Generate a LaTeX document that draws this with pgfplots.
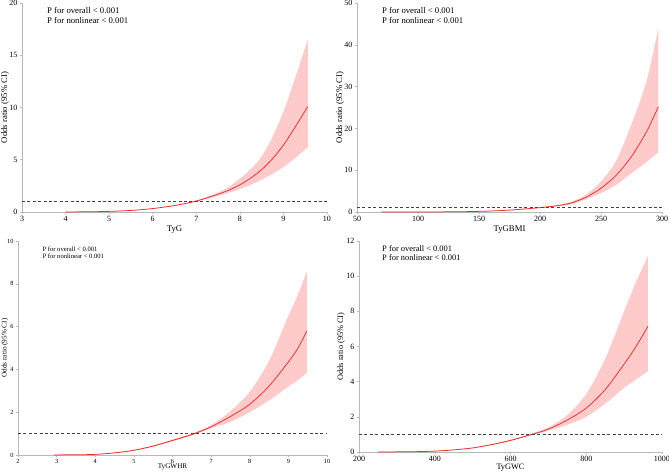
\documentclass[border=0pt]{standalone}
\usepackage{pgfplots}
\pgfplotsset{compat=1.18}
\usepgfplotslibrary{fillbetween}
\usepackage{fontspec}
\setmainfont{Liberation Serif}

\definecolor{axgray}{HTML}{B8B8B8}
\definecolor{band}{HTML}{FFCACA}
\definecolor{orline}{HTML}{EE2A2A}
\definecolor{refline}{HTML}{444444}

\pgfplotsset{
  rcs/.style={
    scale only axis,
    axis x line*=bottom, axis y line*=left,
    axis line style={axgray, line width=0.6pt},
    tick style={axgray, line width=0.5pt},
    tick align=outside, major tick length=2pt,
    xticklabel style={yshift=1.5pt},
    yticklabel style={xshift=1pt},
    /pgf/number format/assume math mode=true,
    /pgf/number format/1000 sep={},
    ylabel={Odds ratio (95\% CI)},
    ylabel style={anchor=south, inner sep=0pt},
    xlabel style={anchor=center, inner sep=0pt},
    tick label style={font=\fontsize{8}{9}\selectfont},
    label style={font=\fontsize{8.7}{10}\selectfont},
  },
  edge/.style={draw=none, smooth, forget plot},
  bandsty/.style={fill=band, draw=none, forget plot},
  orsty/.style={orline, line width=0.75pt, smooth},
  refsty/.style={refline, line width=0.7pt, dash pattern=on 3pt off 2.4pt},
}

\begin{document}
\begin{tikzpicture}

% ---- TyG ----
\begin{axis}[rcs, at={(22pt,260pt)}, anchor=south west, width=305pt, height=209pt,
  xmin=3, xmax=10, ymin=0, ymax=20, xtick={3,...,10}, ytick={0,5,10,15,20},
  xlabel={TyG}, xlabel style={at={(axis description cs:0.5,-0.083)}},
  ylabel style={at={(axis description cs:-0.042,0.5)}}]
\addplot[edge, name path=hi] coordinates {
 (4.0,0.01) (4.5,0.03) (5.0,0.07) (5.5,0.16) (6.0,0.35) (6.5,0.65) (7.0,1.10)
 (7.5,1.88) (7.75,2.4) (8.0,3.2) (8.25,4.1) (8.5,5.3) (8.75,7.2) (9.0,9.6)
 (9.25,12.6) (9.56,16.5)};
\addplot[edge, name path=lo] coordinates {
 (4.0,0.0) (4.5,0.02) (5.0,0.05) (5.5,0.14) (6.0,0.31) (6.5,0.59) (7.0,1.00)
 (7.5,1.55) (7.75,1.85) (8.0,2.2) (8.25,2.6) (8.5,3.1) (8.75,3.65) (9.0,4.3)
 (9.25,5.1) (9.56,6.2)};
\addplot[bandsty] fill between[of=hi and lo];
\addplot[orsty] coordinates {
 (4.0,0.005) (4.5,0.02) (5.0,0.06) (5.5,0.15) (6.0,0.33) (6.5,0.62) (7.0,1.05)
 (7.5,1.70) (7.75,2.1) (8.0,2.6) (8.25,3.25) (8.5,4.05) (8.75,5.1) (9.0,6.4)
 (9.25,8.0) (9.56,10.1)};
\addplot[refsty] coordinates {(3,1) (10,1)};
\node[anchor=west, font=\fontsize{8.7}{10}\selectfont] at (rel axis cs:0.071,0.963) {P for overall < 0.001};
\node[anchor=west, font=\fontsize{8.7}{10}\selectfont] at (rel axis cs:0.071,0.915) {P for nonlinear < 0.001};
\end{axis}

% ---- TyGBMI ----
\begin{axis}[rcs, at={(357pt,260pt)}, anchor=south west, width=305pt, height=209pt,
  xmin=50, xmax=300, ymin=0, ymax=50, xtick={50,100,...,300}, ytick={0,10,...,50},
  xlabel={TyGBMI}, xlabel style={at={(axis description cs:0.5,-0.086)}},
  ylabel style={at={(axis description cs:-0.042,0.5)}}]
\addplot[edge, name path=hi] coordinates {
 (70,0.004) (100,0.012) (125,0.05) (150,0.17) (175,0.5) (200,1.15) (212.5,1.6)
 (225,2.4) (237.5,4.1) (250,7.3) (262.5,12.3) (275,21) (287.5,31.5) (297,44)};
\addplot[edge, name path=lo] coordinates {
 (70,0.002) (100,0.008) (125,0.03) (150,0.13) (175,0.4) (200,0.95) (212.5,1.3)
 (225,1.8) (237.5,3.0) (250,4.5) (262.5,6.5) (275,9.3) (287.5,12) (297,14.3)};
\addplot[bandsty] fill between[of=hi and lo];
\addplot[orsty] coordinates {
 (70,0.003) (100,0.01) (125,0.04) (150,0.15) (175,0.45) (200,1.05) (212.5,1.45)
 (225,2.1) (237.5,3.5) (250,5.7) (262.5,8.8) (275,13.3) (287.5,19.3) (297,25.2)};
\addplot[refsty] coordinates {(50,1) (300,1)};
\node[anchor=west, font=\fontsize{8.7}{10}\selectfont] at (rel axis cs:0.071,0.963) {P for overall < 0.001};
\node[anchor=west, font=\fontsize{8.7}{10}\selectfont] at (rel axis cs:0.071,0.915) {P for nonlinear < 0.001};
\end{axis}

% ---- TyGWHR ----
\begin{axis}[rcs, at={(18pt,17pt)}, anchor=south west, width=309pt, height=214pt,
  xmin=2, xmax=10, ymin=0, ymax=10, xtick={2,...,10}, ytick={0,2,...,10},
  tick label style={font=\fontsize{6.3}{7.5}\selectfont},
  label style={font=\fontsize{7.2}{8.5}\selectfont},
  xlabel={TyGWHR}, xlabel style={at={(axis description cs:0.5,-0.057)}},
  ylabel style={at={(axis description cs:-0.031,0.5)}}]
\addplot[edge, name path=hi] coordinates {
 (2.93,0.006) (3.5,0.012) (4.0,0.035) (4.5,0.11) (5.0,0.24) (5.5,0.45) (6.0,0.72)
 (6.57,1.05) (7.0,1.40) (7.5,2.05) (8.0,2.95) (8.5,4.4) (9.0,6.5) (9.25,7.5) (9.48,8.6)};
\addplot[edge, name path=lo] coordinates {
 (2.93,0.004) (3.5,0.008) (4.0,0.025) (4.5,0.09) (5.0,0.20) (5.5,0.39) (6.0,0.64)
 (6.57,0.95) (7.0,1.25) (7.5,1.55) (8.0,2.0) (8.5,2.55) (9.0,3.2) (9.25,3.5) (9.48,3.85)};
\addplot[bandsty] fill between[of=hi and lo];
\addplot[orsty] coordinates {
 (2.93,0.005) (3.5,0.01) (4.0,0.03) (4.5,0.10) (5.0,0.22) (5.5,0.42) (6.0,0.68)
 (6.57,1.0) (7.0,1.32) (7.5,1.80) (8.0,2.37) (8.5,3.22) (9.0,4.35) (9.25,5.0) (9.48,5.8)};
\addplot[refsty] coordinates {(2,1) (10,1)};
\node[anchor=west, font=\fontsize{6.6}{7.5}\selectfont] at (rel axis cs:0.068,0.963) {P for overall < 0.001};
\node[anchor=west, font=\fontsize{6.6}{7.5}\selectfont] at (rel axis cs:0.068,0.930) {P for nonlinear < 0.001};
\end{axis}

% ---- TyGWC ----
\begin{axis}[rcs, at={(359pt,20pt)}, anchor=south west, width=303pt, height=211pt,
  xmin=200, xmax=1000, ymin=0, ymax=12, xtick={200,400,...,1000}, ytick={0,2,...,12},
  label style={font=\fontsize{8.3}{9.5}\selectfont},
  xlabel={TyGWC}, xlabel style={at={(axis description cs:0.5,-0.072)}},
  ylabel style={at={(axis description cs:-0.046,0.5)}}]
\addplot[edge, name path=hi] coordinates {
 (250,0.004) (300,0.01) (350,0.025) (400,0.06) (450,0.13) (500,0.25) (550,0.45)
 (600,0.70) (656,1.05) (700,1.40) (750,2.1) (800,3.3) (850,5.3) (900,8.0) (930,9.6) (963,11.15)};
\addplot[edge, name path=lo] coordinates {
 (250,0.002) (300,0.006) (350,0.015) (400,0.04) (450,0.11) (500,0.21) (550,0.39)
 (600,0.62) (656,0.95) (700,1.22) (750,1.55) (800,2.0) (850,2.75) (900,3.65) (930,4.1) (963,4.6)};
\addplot[bandsty] fill between[of=hi and lo];
\addplot[orsty] coordinates {
 (250,0.003) (300,0.008) (350,0.02) (400,0.05) (450,0.12) (500,0.23) (550,0.42)
 (600,0.66) (656,1.0) (700,1.30) (750,1.82) (800,2.5) (850,3.55) (900,5.0) (930,5.95) (963,7.15)};
\addplot[refsty] coordinates {(200,1) (1000,1)};
\node[anchor=west, font=\fontsize{8.4}{9.5}\selectfont] at (rel axis cs:0.065,0.962) {P for overall < 0.001};
\node[anchor=west, font=\fontsize{8.4}{9.5}\selectfont] at (rel axis cs:0.065,0.919) {P for nonlinear < 0.001};
\end{axis}

\pgfresetboundingbox
\useasboundingbox (0pt,0pt) rectangle (669pt,472pt);
\end{tikzpicture}
\end{document}
